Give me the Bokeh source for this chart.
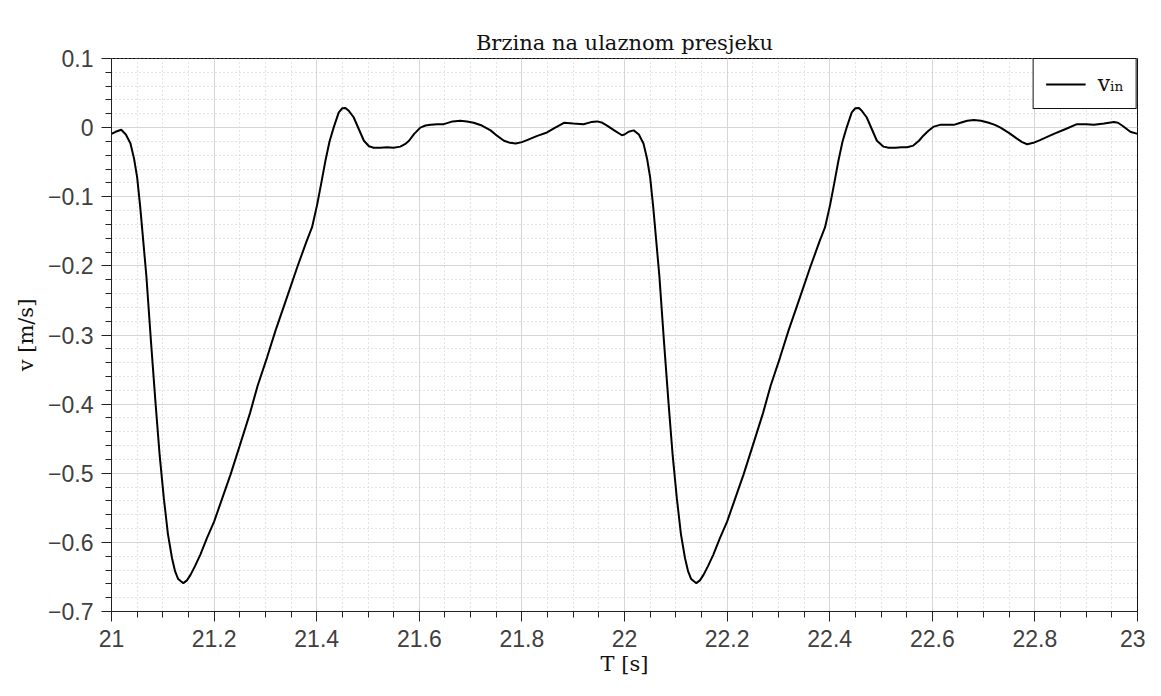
from bokeh.plotting import figure
from bokeh.models import (FixedTicker, CustomJSTickFormatter, Range1d,
                          Legend, LegendItem)
from bokeh.embed import file_html
from bokeh.resources import INLINE

# ---- data (time in s, inlet velocity in m/s) ----
t_cycle1 = [21.000, 21.008, 21.019, 21.028, 21.037, 21.044, 21.050, 21.056, 21.062, 21.068,
            21.077, 21.086, 21.094, 21.102, 21.110, 21.118, 21.124, 21.130, 21.140, 21.147,
            21.154, 21.163, 21.173, 21.186, 21.200, 21.216, 21.232, 21.250, 21.270, 21.285,
            21.303, 21.320, 21.340, 21.362, 21.380, 21.391, 21.401, 21.409, 21.417, 21.425,
            21.433, 21.443, 21.450, 21.456, 21.463, 21.472, 21.482, 21.492, 21.502, 21.511,
            21.524, 21.537, 21.550, 21.563, 21.572, 21.580, 21.590, 21.602, 21.612, 21.622,
            21.635, 21.648, 21.665, 21.680, 21.693, 21.706, 21.722, 21.739, 21.752, 21.765,
            21.777, 21.788, 21.800, 21.810, 21.830, 21.849, 21.865, 21.882, 21.900, 21.920,
            21.935, 21.947, 21.957, 21.966, 21.980, 21.995]
v_cycle1 = [-0.009, -0.006, -0.003, -0.010, -0.023, -0.045, -0.072, -0.115, -0.165, -0.215,
            -0.310, -0.400, -0.475, -0.536, -0.588, -0.623, -0.642, -0.653, -0.659, -0.655,
            -0.647, -0.634, -0.618, -0.594, -0.570, -0.536, -0.502, -0.460, -0.413, -0.373,
            -0.333, -0.293, -0.250, -0.202, -0.165, -0.144, -0.111, -0.080, -0.048, -0.020,
            0.000, 0.022, 0.028, 0.0285, 0.024, 0.015, -0.002, -0.019, -0.027, -0.029,
            -0.029, -0.0285, -0.029, -0.0275, -0.024, -0.019, -0.009, 0.000, 0.003, 0.004,
            0.005, 0.005, 0.009, 0.010, 0.009, 0.007, 0.003, -0.004, -0.012, -0.019,
            -0.022, -0.023, -0.021, -0.018, -0.012, -0.007, 0.000, 0.007, 0.006, 0.005,
            0.008, 0.009, 0.007, 0.003, -0.004, -0.011]

t_cycle2 = [22.000, 22.008, 22.018, 22.028, 22.037, 22.044, 22.050, 22.056, 22.062, 22.068,
            22.077, 22.086, 22.094, 22.102, 22.110, 22.118, 22.124, 22.130, 22.140, 22.147,
            22.154, 22.163, 22.173, 22.186, 22.200, 22.216, 22.232, 22.250, 22.270, 22.285,
            22.303, 22.320, 22.340, 22.362, 22.380, 22.391, 22.401, 22.409, 22.417, 22.425,
            22.433, 22.443, 22.450, 22.457, 22.463, 22.472, 22.482, 22.492, 22.505, 22.515,
            22.528, 22.540, 22.551, 22.563, 22.574, 22.582, 22.592, 22.603, 22.615, 22.625,
            22.642, 22.655, 22.668, 22.681, 22.695, 22.710, 22.722, 22.733, 22.750, 22.765,
            22.775, 22.785, 22.797, 22.810, 22.825, 22.837, 22.860, 22.882, 22.900, 22.915,
            22.935, 22.954, 22.962, 22.972, 22.986, 23.000]
v_cycle2 = [-0.010, -0.006, -0.004, -0.010, -0.023, -0.045, -0.072, -0.115, -0.165, -0.215,
            -0.310, -0.400, -0.475, -0.536, -0.588, -0.623, -0.642, -0.653, -0.659, -0.655,
            -0.647, -0.634, -0.618, -0.594, -0.570, -0.536, -0.502, -0.460, -0.413, -0.373,
            -0.333, -0.293, -0.250, -0.202, -0.165, -0.144, -0.111, -0.080, -0.048, -0.020,
            0.000, 0.022, 0.028, 0.0285, 0.024, 0.015, -0.002, -0.019, -0.0275, -0.029,
            -0.029, -0.0285, -0.0285, -0.026, -0.019, -0.012, -0.005, 0.0015, 0.004, 0.004,
            0.004, 0.007, 0.010, 0.011, 0.010, 0.007, 0.004, 0.000, -0.008, -0.016,
            -0.021, -0.024, -0.022, -0.018, -0.013, -0.009, -0.002, 0.005, 0.005, 0.004,
            0.006, 0.008, 0.007, 0.002, -0.006, -0.009]

x_major_ticks = [21.0, 21.2, 21.4, 21.6, 21.8, 22.0, 22.2, 22.4, 22.6, 22.8, 23.0]
x_minor_ticks = [21 + 0.05 * i for i in range(41)]
y_major_ticks = [-0.7, -0.6, -0.5, -0.4, -0.3, -0.2, -0.1, 0.0, 0.1]
y_minor_ticks = [-0.7 + 0.02 * i for i in range(41)]

SERIF = "DejaVu Serif"
SANS = "Liberation Sans"

p = figure(width=1145, height=680, output_backend="svg", toolbar_location=None,
           x_range=Range1d(21, 23), y_range=Range1d(-0.7, 0.1),
           min_border_left=111, min_border_right=8, min_border_top=58, min_border_bottom=69,
           title="Brzina na ulaznom presjeku")

p.title.text_font = SERIF
p.title.text_font_size = "21px"
p.title.text_font_style = "normal"
p.title.text_color = "#111111"
p.title.align = "center"
p.title.standoff = 8

p.outline_line_color = "#111111"
p.outline_line_width = 1
p.outline_line_alpha = 1

t_all = t_cycle1 + t_cycle2
v_all = v_cycle1 + v_cycle2
r = p.line(t_all, v_all, line_color="black", line_width=2)

p.xaxis.ticker = FixedTicker(ticks=x_major_ticks, minor_ticks=x_minor_ticks)
p.yaxis.ticker = FixedTicker(ticks=y_major_ticks, minor_ticks=y_minor_ticks)

fmt_code = ("var v = Math.round(tick*10)/10; if (Math.abs(v) < 1e-9) v = 0; "
            "return v.toString().replace('-', '\u2212');")
p.xaxis.formatter = CustomJSTickFormatter(code=fmt_code)
p.yaxis.formatter = CustomJSTickFormatter(code=fmt_code)

for ax in (p.xaxis[0], p.yaxis[0]):
    ax.axis_line_color = "#222222"
    ax.major_tick_line_color = "#222222"
    ax.minor_tick_line_color = "#222222"
    ax.major_tick_out = 10
    ax.major_tick_in = 0
    ax.minor_tick_out = 6
    ax.minor_tick_in = 0
    ax.major_label_text_font = SANS
    ax.major_label_text_font_size = "23px"
    ax.major_label_text_color = "#404040"
    ax.axis_label_text_font = SERIF
    ax.axis_label_text_font_size = "21px"
    ax.axis_label_text_font_style = "normal"
    ax.axis_label_text_color = "#111111"

p.xaxis.axis_label = "T [s]"
p.yaxis.axis_label = "v [m/s]"
p.xaxis.major_label_standoff = 8
p.yaxis.major_label_standoff = 8
p.xaxis.axis_label_standoff = 2
p.yaxis.axis_label_standoff = 7

for g in (p.xgrid[0], p.ygrid[0]):
    g.grid_line_color = "#d6d6d6"
    g.grid_line_width = 1
    g.minor_grid_line_color = "#c8c8c8"
    g.minor_grid_line_dash = "1 3"
    g.minor_grid_line_width = 1

legend = Legend(items=[LegendItem(label="vᵢₙ", renderers=[r])], location="top_right")
legend.label_text_font = SERIF
legend.label_text_font_size = "22px"
legend.label_text_color = "#111111"
legend.border_line_color = "#111111"
legend.border_line_width = 1
legend.border_line_alpha = 1
legend.background_fill_color = "white"
legend.background_fill_alpha = 1
legend.margin = 0
legend.padding = 12
legend.glyph_width = 40
legend.label_standoff = 12
p.add_layout(legend)

open("out.html", "w", encoding="utf-8").write(file_html(p, INLINE))
